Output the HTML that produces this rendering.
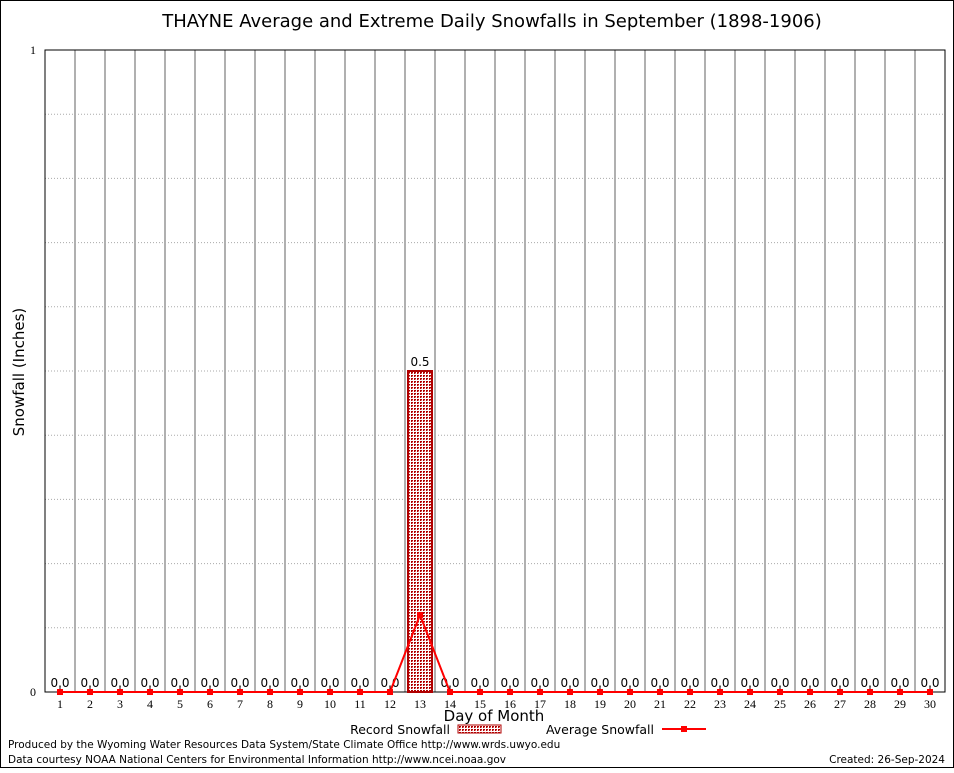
<!DOCTYPE html>
<html><head><meta charset="utf-8"><style>
body{margin:0;background:#fff}
svg text{font-family:"DejaVu Sans","Liberation Sans",sans-serif}
svg text.serif{font-family:"Liberation Serif",serif}
</style></head><body>
<svg id="c" width="954" height="768" viewBox="0 0 954 768">
<defs>
<pattern id="hatch" width="3" height="3" patternUnits="userSpaceOnUse">
<rect width="3" height="3" fill="#fff"/><rect width="2" height="2" fill="#b00000"/><rect x="1" y="1" width="1" height="1" fill="#e08080"/>
</pattern>
</defs>
<rect x="0.5" y="0.5" width="953" height="767" fill="#fff" stroke="#000"/>
<text x="492" y="27" font-size="18" text-anchor="middle">THAYNE Average and Extreme Daily Snowfalls in September (1898-1906)</text>
<g id="grid"></g>
<g id="marks"></g>
<text x="24" y="372" font-size="15" text-anchor="middle" transform="rotate(-90 24 372)">Snowfall (Inches)</text>
<text x="494" y="721" font-size="15" text-anchor="middle">Day of Month</text>
<g>
<text x="450" y="734" font-size="12.5" text-anchor="end">Record Snowfall</text>
<rect x="458" y="725" width="43" height="8" fill="url(#hatch)" stroke="#b00000"/>
<text x="654" y="734" font-size="12.5" text-anchor="end">Average Snowfall</text>
<line x1="662" y1="729" x2="706" y2="729" stroke="#f00" stroke-width="2"/>
<rect x="681" y="726" width="6" height="6" fill="#f00"/>
</g>
<text x="8" y="748" font-size="10.5">Produced by the Wyoming Water Resources Data System/State Climate Office http://www.wrds.uwyo.edu</text>
<text x="8" y="763" font-size="10.5">Data courtesy NOAA National Centers for Environmental Information http://www.ncei.noaa.gov</text>
<text x="945" y="763" font-size="10.5" text-anchor="end">Created: 26-Sep-2024</text>
</svg>
<script>
const days=[1,2,3,4,5,6,7,8,9,10,11,12,13,14,15,16,17,18,19,20,21,22,23,24,25,26,27,28,29,30];
const recordVals=[0,0,0,0,0,0,0,0,0,0,0,0,0.5,0,0,0,0,0,0,0,0,0,0,0,0,0,0,0,0,0];
const avgVals=[0,0,0,0,0,0,0,0,0,0,0,0,0.12,0,0,0,0,0,0,0,0,0,0,0,0,0,0,0,0,0];
const yTicks=[0,1];
const NS="http://www.w3.org/2000/svg";
const L=45,R=945,T=50,B=692;
function x(d){return L+15+(d-1)*30;}
function y(v){return B-(v-0)/(1-0)*(B-T);}
function mk(tag,a,p){const e=document.createElementNS(NS,tag);for(const k in a)e.setAttribute(k,a[k]);p.appendChild(e);return e;}
const g=document.getElementById('grid'),m=document.getElementById('marks');
for(let i=1;i<10;i++){const l=mk('line',{x1:L,x2:R,y1:y(i/10),y2:y(i/10),stroke:'#aaa','stroke-dasharray':'1,2'},g);

}
for(let i=1;i<days.length;i++){const xx=x(days[i])-15;const l=mk('line',{x1:xx,x2:xx,y1:T,y2:B,stroke:'#b0b0b0','stroke-width':2},g);

}
const fr=mk('rect',{x:L,y:T,width:R-L,height:B-T,fill:'none',stroke:'#000'},g);


yTicks.forEach(v=>{const t=mk('text',{x:L-9,y:y(v)+4,'font-size':12,'text-anchor':'end','class':'serif'},g);t.textContent=v;

});
days.forEach((d,i)=>{
const t=mk('text',{x:x(d),y:B+16,'font-size':12,'text-anchor':'middle','class':'serif'},g);t.textContent=d;


const tk=mk('line',{x1:x(d),x2:x(d),y1:B,y2:B-5,stroke:'#000'},g);


const v=recordVals[i];
if(v>0){const b=mk('rect',{x:x(d)-12,y:y(v),width:24,height:B-y(v),fill:'url(#hatch)',stroke:'#b00000','stroke-width':2},m);

}
const lb=mk('text',{x:x(d),y:y(v)-5,'font-size':12,'text-anchor':'middle'},m);lb.textContent=v.toFixed(1);


});
const pl=mk('polyline',{points:days.map((d,i)=>x(d)+','+y(avgVals[i])).join(' '),fill:'none',stroke:'#f00','stroke-width':2},m);


days.forEach((d,i)=>{const p=mk('rect',{x:x(d)-3,y:y(avgVals[i])-3,width:6,height:6,fill:'#f00'},m);

});
</script>
</body></html>
